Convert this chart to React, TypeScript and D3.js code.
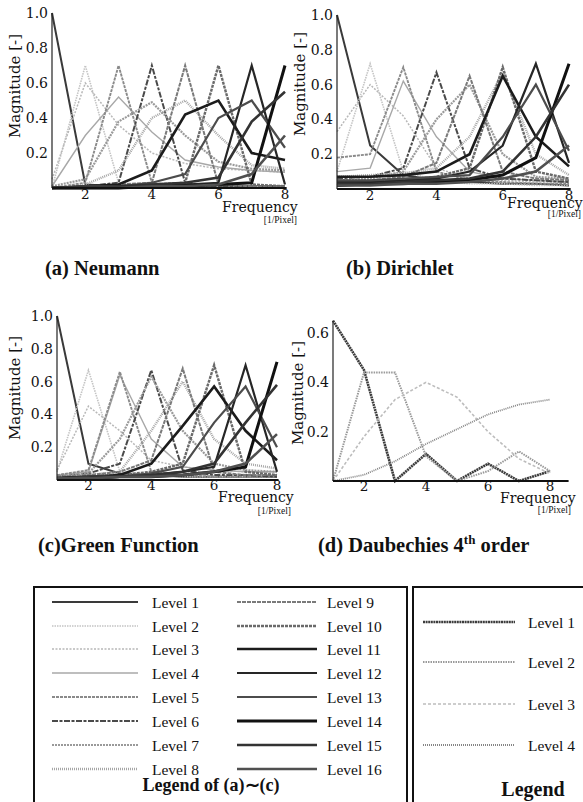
import React from "react";
import * as d3 from "d3";

// Spatial frequency samples (1/pixel)
const FREQ = [1, 2, 3, 4, 5, 6, 7, 8];
const X_TICKS = [2, 4, 6, 8];
const Y_TICKS_FULL = [0.2, 0.4, 0.6, 0.8, 1.0];
const Y_TICKS_DAUB = [0.2, 0.4, 0.6];

const LEVELS_16 = d3.range(1, 17).map((i) => `Level ${i}`);
const LEVELS_4 = d3.range(1, 5).map((i) => `Level ${i}`);

// (a) Neumann boundary condition: magnitude per level at each frequency
const NEUMANN = [
  [1.0, 0.02, 0.01, 0.01, 0.01, 0.01, 0.01, 0.01],
  [0.0, 0.7, 0.03, 0.01, 0.01, 0.01, 0.01, 0.01],
  [0.05, 0.6, 0.36, 0.2, 0.14, 0.11, 0.1, 0.09],
  [0.01, 0.3, 0.52, 0.32, 0.16, 0.12, 0.1, 0.09],
  [0.0, 0.03, 0.7, 0.03, 0.01, 0.01, 0.01, 0.01],
  [0.0, 0.01, 0.03, 0.7, 0.03, 0.01, 0.01, 0.01],
  [0.01, 0.05, 0.38, 0.49, 0.3, 0.15, 0.11, 0.1],
  [0.0, 0.02, 0.1, 0.4, 0.5, 0.3, 0.13, 0.11],
  [0.0, 0.01, 0.02, 0.03, 0.7, 0.02, 0.01, 0.01],
  [0.0, 0.01, 0.01, 0.02, 0.03, 0.7, 0.02, 0.01],
  [0.0, 0.01, 0.02, 0.1, 0.42, 0.5, 0.2, 0.16],
  [0.0, 0.0, 0.01, 0.01, 0.02, 0.03, 0.7, 0.02],
  [0.0, 0.01, 0.01, 0.03, 0.08, 0.4, 0.5, 0.23],
  [0.0, 0.0, 0.0, 0.01, 0.01, 0.02, 0.03, 0.7],
  [0.0, 0.0, 0.01, 0.02, 0.03, 0.06, 0.38, 0.55],
  [0.0, 0.0, 0.0, 0.01, 0.01, 0.02, 0.08, 0.3],
];

// (b) Dirichlet boundary condition
const DIRICHLET = [
  [1.0, 0.25, 0.08, 0.05, 0.04, 0.03, 0.03, 0.02],
  [0.1, 0.72, 0.1, 0.05, 0.03, 0.03, 0.02, 0.02],
  [0.33, 0.6, 0.42, 0.12, 0.06, 0.05, 0.04, 0.04],
  [0.1, 0.12, 0.62, 0.3, 0.1, 0.06, 0.05, 0.04],
  [0.18, 0.2, 0.7, 0.1, 0.05, 0.04, 0.03, 0.03],
  [0.06, 0.07, 0.12, 0.67, 0.12, 0.06, 0.05, 0.04],
  [0.05, 0.06, 0.1, 0.4, 0.6, 0.2, 0.07, 0.06],
  [0.07, 0.08, 0.09, 0.12, 0.3, 0.67, 0.2, 0.08],
  [0.04, 0.05, 0.07, 0.15, 0.65, 0.1, 0.06, 0.05],
  [0.03, 0.04, 0.05, 0.07, 0.12, 0.7, 0.1, 0.06],
  [0.07, 0.07, 0.08, 0.1, 0.2, 0.65, 0.3, 0.13],
  [0.04, 0.04, 0.05, 0.06, 0.1, 0.25, 0.72, 0.15],
  [0.05, 0.05, 0.06, 0.07, 0.08, 0.3, 0.6, 0.22],
  [0.02, 0.03, 0.03, 0.04, 0.05, 0.08, 0.18, 0.72],
  [0.03, 0.03, 0.04, 0.05, 0.06, 0.1, 0.3, 0.6],
  [0.02, 0.02, 0.03, 0.03, 0.04, 0.06, 0.1, 0.25],
];

// (c) Green function
const GREEN = [
  [1.0, 0.1, 0.04, 0.03, 0.02, 0.02, 0.02, 0.02],
  [0.05, 0.67, 0.05, 0.03, 0.02, 0.02, 0.02, 0.02],
  [0.06, 0.45, 0.3, 0.12, 0.08, 0.06, 0.05, 0.05],
  [0.03, 0.05, 0.64, 0.25, 0.08, 0.06, 0.05, 0.05],
  [0.03, 0.06, 0.66, 0.05, 0.03, 0.02, 0.02, 0.02],
  [0.02, 0.04, 0.1, 0.67, 0.06, 0.03, 0.03, 0.02],
  [0.02, 0.04, 0.25, 0.63, 0.3, 0.1, 0.06, 0.05],
  [0.02, 0.03, 0.05, 0.3, 0.6, 0.25, 0.1, 0.07],
  [0.02, 0.03, 0.05, 0.12, 0.68, 0.05, 0.03, 0.03],
  [0.01, 0.02, 0.03, 0.05, 0.1, 0.7, 0.05, 0.03],
  [0.01, 0.02, 0.03, 0.1, 0.33, 0.57, 0.3, 0.12],
  [0.01, 0.02, 0.02, 0.03, 0.05, 0.08, 0.7, 0.05],
  [0.01, 0.02, 0.02, 0.04, 0.08, 0.35, 0.57, 0.2],
  [0.01, 0.01, 0.02, 0.02, 0.03, 0.05, 0.08, 0.72],
  [0.01, 0.01, 0.02, 0.03, 0.05, 0.1, 0.35, 0.58],
  [0.01, 0.01, 0.02, 0.02, 0.03, 0.05, 0.1, 0.28],
];

// (d) Daubechies 4th order wavelet
const DAUBECHIES = [
  [0.65, 0.45, 0.0, 0.11, 0.0, 0.07, 0.0, 0.04],
  [0.0, 0.44, 0.44, 0.1, 0.0, 0.04, 0.12, 0.04],
  [0.0, 0.18, 0.33, 0.4, 0.34, 0.2, 0.09, 0.03],
  [0.0, 0.025, 0.08, 0.15, 0.21, 0.27, 0.31, 0.33],
];

type LineStyle = { stroke: string; width: number; dash?: string };

const STYLES_16: LineStyle[] = [
  { stroke: "#3a3a3a", width: 2 },
  { stroke: "#c4c4c4", width: 1.6, dash: "1.5 1" },
  { stroke: "#b8b8b8", width: 1.5, dash: "2 1.5" },
  { stroke: "#a8a8a8", width: 1.4 },
  { stroke: "#8a8a8a", width: 1.9, dash: "3 1" },
  { stroke: "#4a4a4a", width: 2, dash: "6 1.5 3 1.5" },
  { stroke: "#9a9a9a", width: 2.2, dash: "2 1" },
  { stroke: "#a6a6a6", width: 2.4, dash: "1 1" },
  { stroke: "#7a7a7a", width: 2, dash: "4 1" },
  { stroke: "#6a6a6a", width: 2.4, dash: "3 1" },
  { stroke: "#1c1c1c", width: 2.6 },
  { stroke: "#262626", width: 2.2 },
  { stroke: "#4c4c4c", width: 2.2 },
  { stroke: "#111111", width: 3 },
  { stroke: "#333333", width: 2.6 },
  { stroke: "#505050", width: 2.6 },
];

const STYLES_4: LineStyle[] = [
  { stroke: "#3c3c3c", width: 2.6, dash: "2 0.6" },
  { stroke: "#9a9a9a", width: 2, dash: "1.5 1" },
  { stroke: "#bdbdbd", width: 1.6, dash: "3 2" },
  { stroke: "#858585", width: 1.8, dash: "1 1" },
];

type PanelSpec = {
  series: number[][];
  styles: LineStyle[];
  xRange: [number, number];
  yRange: [number, number];
  yMax: number;
  yTicks: number[];
  axisEnd: number;
  magnitude: [number, number];
  freq: [number, number];
  unit: [number, number];
  tickGap: number;
};

const PANELS: PanelSpec[] = [
  {
    series: NEUMANN, styles: STYLES_16, xRange: [52, 285], yRange: [188, 13], yMax: 1,
    yTicks: Y_TICKS_FULL, axisEnd: 8.05, magnitude: [15, 86], freq: [222, 212], unit: [297, 223], tickGap: 11,
  },
  {
    series: DIRICHLET, styles: STYLES_16, xRange: [337, 569], yRange: [189, 15], yMax: 1,
    yTicks: Y_TICKS_FULL, axisEnd: 8.05, magnitude: [300, 84], freq: [507, 208], unit: [581, 217], tickGap: 11,
  },
  {
    series: GREEN, styles: STYLES_16, xRange: [57, 277], yRange: [480, 316], yMax: 1,
    yTicks: Y_TICKS_FULL, axisEnd: 8.05, magnitude: [15, 388], freq: [218, 502], unit: [291, 514], tickGap: 10,
  },
  {
    series: DAUBECHIES, styles: STYLES_4, xRange: [333, 550], yRange: [481, 333], yMax: 0.6,
    yTicks: Y_TICKS_DAUB, axisEnd: 8.6, magnitude: [298, 393], freq: [500, 503], unit: [571, 513], tickGap: 10,
  },
];

const TICK_FONT = "'DejaVu Serif', serif";
const TEXT_FONT = "'Liberation Serif', 'Times New Roman', serif";

function Panel({ spec }: { spec: PanelSpec }) {
  const x = d3.scaleLinear().domain([1, 8]).range(spec.xRange);
  const y = d3.scaleLinear().domain([0, spec.yMax]).range(spec.yRange);
  const line = d3
    .line<number>()
    .x((_, i) => x(FREQ[i]))
    .y((v) => y(v));
  const yTop = d3.max(spec.series, (s) => s[0]) ?? spec.yMax;

  return (
    <g>
      {spec.series.map((s, i) => {
        const st = spec.styles[i];
        return (
          <path
            key={i}
            d={line(s) ?? ""}
            fill="none"
            stroke={st.stroke}
            strokeWidth={st.width}
            strokeDasharray={st.dash}
            strokeLinejoin="miter"
          />
        );
      })}
      {/* axes */}
      <line x1={x(1)} x2={x(1)} y1={y(0)} y2={y(yTop)} stroke="#222" strokeWidth={1.2} />
      <line x1={x(1)} x2={x(spec.axisEnd)} y1={y(0)} y2={y(0)} stroke="#111" strokeWidth={2.2} />
      {spec.yTicks.map((t) => (
        <text
          key={t}
          x={x(1) - 4}
          y={y(t)}
          textAnchor="end"
          dominantBaseline="central"
          fontFamily={TICK_FONT}
          fontSize={14}
          fill="#111"
        >
          {t.toFixed(1)}
        </text>
      ))}
      {X_TICKS.map((t) => (
        <text
          key={t}
          x={x(t)}
          y={y(0) + spec.tickGap}
          textAnchor="middle"
          fontFamily={TICK_FONT}
          fontSize={13.5}
          fill="#111"
        >
          {t}
        </text>
      ))}
      <text
        transform={`translate(${spec.magnitude[0]},${spec.magnitude[1]}) rotate(-90)`}
        textAnchor="middle"
        dominantBaseline="central"
        fontFamily={TICK_FONT}
        fontSize={15}
        fill="#111"
      >
        Magnitude [-]
      </text>
      <text x={spec.freq[0]} y={spec.freq[1]} fontFamily={TICK_FONT} fontSize={14} fill="#111">
        Frequency
      </text>
      <text
        x={spec.unit[0]}
        y={spec.unit[1]}
        textAnchor="end"
        fontFamily={TEXT_FONT}
        fontSize={9.5}
        fill="#111"
      >
        [1/Pixel]
      </text>
    </g>
  );
}

const LEFT_ROWS = [602, 626, 649, 673, 697, 721, 745, 769];
const RIGHT_ROWS = [622, 662, 704, 745];

function Legends() {
  return (
    <g fontFamily={TEXT_FONT} fill="#111">
      <rect x={34} y={587} width={373} height={230} fill="none" stroke="#111" strokeWidth={2} />
      <rect x={413} y={587} width={180} height={230} fill="none" stroke="#111" strokeWidth={2} />
      {LEVELS_16.map((name, i) => {
        const col = i < 8 ? 0 : 1;
        const row = LEFT_ROWS[i % 8];
        const x1 = col === 0 ? 52 : 237;
        const x2 = col === 0 ? 138 : 317;
        const st = STYLES_16[i];
        return (
          <g key={name}>
            <line
              x1={x1}
              x2={x2}
              y1={row}
              y2={row}
              stroke={st.stroke}
              strokeWidth={st.width}
              strokeDasharray={st.dash}
            />
            <text x={col === 0 ? 152 : 327} y={row} dominantBaseline="central" fontSize={15.5}>
              {name}
            </text>
          </g>
        );
      })}
      <text x={211} y={791} textAnchor="middle" fontSize={18} fontWeight="bold">
        Legend of (a)∼(c)
      </text>
      {LEVELS_4.map((name, i) => {
        const st = STYLES_4[i];
        const row = RIGHT_ROWS[i];
        return (
          <g key={name}>
            <line
              x1={423}
              x2={515}
              y1={row}
              y2={row}
              stroke={st.stroke}
              strokeWidth={st.width}
              strokeDasharray={st.dash}
            />
            <text x={528} y={row} dominantBaseline="central" fontSize={15.5}>
              {name}
            </text>
          </g>
        );
      })}
      <text x={533} y={796} textAnchor="middle" fontSize={20} fontWeight="bold">
        Legend
      </text>
    </g>
  );
}

function Titles() {
  return (
    <g fontFamily={TEXT_FONT} fontWeight="bold" fontSize={20.5} fill="#111">
      <text x={45} y={275}>(a) Neumann</text>
      <text x={346} y={275}>(b) Dirichlet</text>
      <text x={38} y={552}>(c)Green Function</text>
      <text x={318} y={552}>
        (d) Daubechies 4<tspan fontSize={13} dy={-8}>th</tspan>
        <tspan dy={8}> order</tspan>
      </text>
    </g>
  );
}

export default function App() {
  return (
    <svg
      width={583}
      height={802}
      viewBox="0 0 583 802"
      style={{ position: "absolute", left: 0, top: 0, background: "#fff" }}
    >
      <rect width={583} height={802} fill="#fff" />
      {PANELS.map((p, i) => (
        <Panel key={i} spec={p} />
      ))}
      <Titles />
      <Legends />
    </svg>
  );
}
